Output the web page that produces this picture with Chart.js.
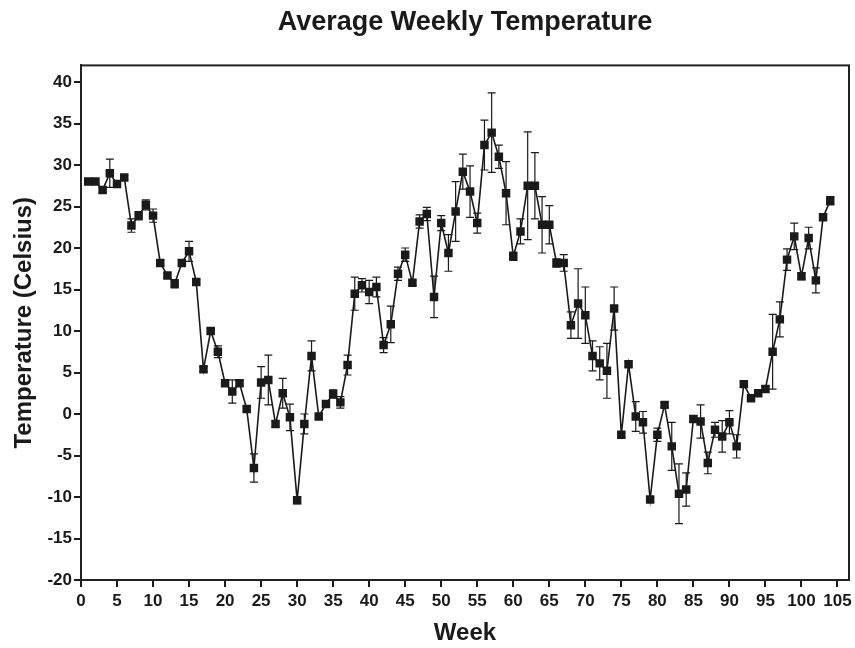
<!DOCTYPE html>
<html>
<head>
<meta charset="utf-8">
<title>Average Weekly Temperature</title>
<script src="https://cdn.jsdelivr.net/npm/chart.js@4/dist/chart.umd.min.js"></script>
<style>
html, body { margin: 0; padding: 0; background: #fff; }
#wrap { width: 855px; height: 648px; }
</style>
</head>
<body>
<div id="wrap"><canvas id="tempChart" width="855" height="648"></canvas></div>
<script>
// Weekly averages
const weeks = [];
for (let w = 1; w <= 104; w++) weeks.push(w);

const temps = [
  28.0, 28.0, 27.0, 29.0, 27.7, 28.5, 22.7, 23.9, 25.2, 23.9,
  18.2, 16.7, 15.7, 18.2, 19.6, 15.9, 5.4, 10.0, 7.5, 3.7,
  2.7, 3.7, 0.6, -6.5, 3.8, 4.1, -1.2, 2.5, -0.4, -10.4,
  -1.2, 7.0, -0.3, 1.2, 2.4, 1.4, 5.9, 14.5, 15.5, 14.7,
  15.3, 8.3, 10.8, 16.9, 19.2, 15.8, 23.2, 24.1, 14.1, 23.0,
  19.4, 24.4, 29.2, 26.8, 23.0, 32.4, 33.9, 31.0, 26.6, 19.0,
  22.0, 27.5, 27.5, 22.8, 22.8, 18.2, 18.2, 10.7, 13.3, 11.9,
  7.0, 6.1, 5.2, 12.7, -2.5, 6.0, -0.3, -1.0, -10.3, -2.5,
  1.1, -3.9, -9.6, -9.1, -0.6, -0.9, -5.9, -1.9, -2.7, -1.0,
  -3.9, 3.6, 1.9, 2.5, 3.0, 7.5, 11.4, 18.6, 21.4, 16.6,
  21.2, 16.1, 23.7, 25.7
];

// error bar half-lengths
const errors = [
  0.3, 0.3, 0.3, 1.7, 0.4, 0.3, 0.8, 0.5, 0.6, 0.8,
  0.3, 0.3, 0.5, 0.3, 1.2, 0.3, 0.3, 0.3, 0.7, 0.3,
  1.4, 0.3, 0.3, 1.7, 1.9, 3.0, 0.4, 1.8, 1.6, 0.4,
  1.2, 1.8, 0.3, 0.3, 0.5, 0.7, 1.2, 2.0, 0.8, 1.4,
  1.2, 0.9, 2.2, 0.8, 0.8, 0.3, 0.8, 0.8, 2.5, 0.9,
  2.2, 3.6, 2.1, 3.1, 1.2, 3.0, 4.8, 1.4, 3.8, 0.5,
  1.5, 6.5, 4.0, 3.4, 2.3, 0.5, 1.0, 1.6, 4.2, 3.4,
  1.8, 2.0, 3.3, 2.6, 0.3, 0.3, 1.8, 1.3, 0.3, 0.8,
  0.3, 2.9, 3.6, 2.0, 0.4, 2.0, 1.3, 0.9, 1.9, 1.4,
  1.4, 0.4, 0.3, 0.3, 0.4, 4.5, 2.1, 1.3, 1.6, 0.4,
  1.3, 1.5, 0.3, 0.5
];

const xTicks = [0, 5, 10, 15, 20, 25, 30, 35, 40, 45, 50, 55, 60, 65, 70, 75, 80, 85, 90, 95, 100, 105];
const yTicks = [-20, -15, -10, -5, 0, 5, 10, 15, 20, 25, 30, 35, 40];

const ink = '#1a1a1a';
const fontName = "'Liberation Sans', Arial, sans-serif";

// error bars drawn behind the markers
const errorBars = {
  id: 'errorBars',
  beforeDatasetsDraw(chart) {
    const ctx = chart.ctx;
    const xs = chart.scales.x;
    const ys = chart.scales.y;
    ctx.save();
    ctx.strokeStyle = ink;
    ctx.lineWidth = 1.2;
    weeks.forEach((w, i) => {
      const x = xs.getPixelForValue(w);
      const top = ys.getPixelForValue(temps[i] + errors[i]);
      const bot = ys.getPixelForValue(temps[i] - errors[i]);
      ctx.beginPath();
      ctx.moveTo(x, top); ctx.lineTo(x, bot);
      ctx.moveTo(x - 4, top); ctx.lineTo(x + 4, top);
      ctx.moveTo(x - 4, bot); ctx.lineTo(x + 4, bot);
      ctx.stroke();
    });
    ctx.restore();
  }
};

// box around the plot area
const frame = {
  id: 'frame',
  afterDraw(chart) {
    const a = chart.chartArea;
    const ctx = chart.ctx;
    ctx.save();
    ctx.strokeStyle = '#222';
    ctx.lineWidth = 2;
    ctx.strokeRect(a.left, a.top, a.right - a.left, a.bottom - a.top);
    ctx.restore();
  }
};

const ctx = document.getElementById('tempChart');

new Chart(ctx, {
  type: 'line',
  data: {
    datasets: [{
      data: weeks.map((w, i) => ({ x: w, y: temps[i] })),
      borderColor: ink,
      borderWidth: 1.6,
      backgroundColor: ink,
      pointStyle: 'rect',
      pointRadius: 6,
      pointBorderWidth: 0,
      tension: 0
    }]
  },
  options: {
    responsive: false,
    animation: false,
    layout: { padding: { left: 0, right: 3, top: 0, bottom: 0 } },
    plugins: {
      legend: { display: false },
      tooltip: { enabled: false },
      title: {
        display: true,
        text: 'Average Weekly Temperature',
        fullSize: false,
        color: ink,
        font: { family: fontName, size: 27, weight: 'bold' },
        padding: { top: 6, bottom: 27 }
      }
    },
    scales: {
      x: {
        type: 'linear',
        min: 0,
        max: 106.6,
        afterBuildTicks: axis => { axis.ticks = xTicks.map(v => ({ value: v })); },
        afterFit: axis => {
          axis.height = 68;
          axis.paddingLeft = 0;
          axis.paddingRight = 0;
        },
        grid: { drawOnChartArea: false, drawTicks: true, tickLength: 7, color: ink, lineWidth: 2 },
        border: { display: true, color: '#222', width: 2 },
        ticks: {
          color: ink,
          padding: 4,
          maxRotation: 0,
          autoSkip: false,
          font: { family: fontName, size: 17, weight: 'bold' }
        },
        title: {
          display: true,
          text: 'Week',
          color: ink,
          padding: { top: 0, bottom: 0 },
          font: { family: fontName, size: 24, weight: 'bold' }
        }
      },
      y: {
        min: -20,
        max: 42,
        afterBuildTicks: axis => { axis.ticks = yTicks.map(v => ({ value: v })); },
        afterFit: axis => { axis.width = 81; },
        grid: { drawOnChartArea: false, drawTicks: true, tickLength: 7, color: ink, lineWidth: 2 },
        border: { display: true, color: '#222', width: 2 },
        ticks: {
          color: ink,
          padding: 2,
          autoSkip: false,
          font: { family: fontName, size: 17, weight: 'bold' }
        },
        title: {
          display: true,
          text: 'Temperature (Celsius)',
          color: ink,
          padding: { top: 10, bottom: 0 },
          font: { family: fontName, size: 24, weight: 'bold' }
        }
      }
    }
  },
  plugins: [errorBars, frame]
});
</script>
</body>
</html>
